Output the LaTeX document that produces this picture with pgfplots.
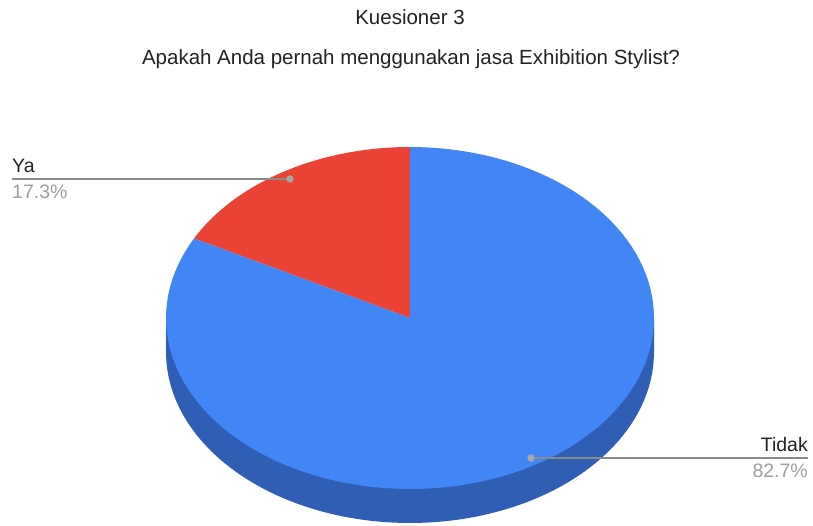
\documentclass[border=0pt]{standalone}
\usepackage{pgfplots}
\pgfplotsset{compat=1.18}
\usepackage{pgfplotstable}
\usepackage{fontspec}
\setmainfont{Liberation Sans}
\definecolor{cBlue}{HTML}{4285F4}
\definecolor{cRed}{HTML}{EA4335}
\definecolor{cSide}{HTML}{305EB4}
\definecolor{cLine}{HTML}{8A8A8A}
\definecolor{cDot}{HTML}{A8A8A8}
\definecolor{cPct}{HTML}{9E9E9E}
\definecolor{cText}{HTML}{222222}
\pgfplotstableread{
label value
Ya 17.3
Tidak 82.7
}\piedata
\pgfplotstablegetelem{0}{value}\of\piedata \let\vYa\pgfplotsretval
\pgfplotstablegetelem{1}{value}\of\piedata \let\vTidak\pgfplotsretval
\pgfmathsetmacro{\aStart}{90}
\pgfmathsetmacro{\aMid}{90+3.6*\vYa}
\pgfmathsetmacro{\aEnd}{\aMid+3.6*\vTidak}
% pie geometry (image pixels): centre, radii, depth
\def\cx{410}\def\cy{318}\def\rx{244}\def\ry{171}\def\dd{34}
\begin{document}
\begin{tikzpicture}
\useasboundingbox (0,0) rectangle (813pt,526pt);
\begin{axis}[
  at={(0,0)}, anchor=south west,
  hide axis, scale only axis,
  width=813pt, height=526pt,
  xmin=0, xmax=813, ymin=0, ymax=526,
  y dir=reverse, clip=true,
  samples=120,
]
% side of the pie (front)
\addplot[draw=none, fill=cSide, domain=180:360]
  ({\cx+\rx*cos(x)}, {\cy+\dd-\ry*sin(x)})
  -- (axis cs:\cx+\rx,\cy) -- (axis cs:\cx-\rx,\cy) -- cycle;
% Ya slice
\addplot[draw=none, fill=cRed, domain=\aStart:\aMid]
  ({\cx+\rx*cos(x)}, {\cy-\ry*sin(x)})
  -- (axis cs:\cx,\cy) -- cycle;
% Tidak slice
\addplot[draw=none, fill=cBlue, domain=\aMid:\aEnd]
  ({\cx+\rx*cos(x)}, {\cy-\ry*sin(x)})
  -- (axis cs:\cx,\cy) -- cycle;
% leader lines
\addplot[cLine, line width=1.4pt] coordinates {(12,179) (290,179)};
\addplot[cLine, line width=1.4pt] coordinates {(531,458) (808,458)};
\addplot[color=cDot, only marks, mark=*, mark size=3.4pt, mark options={draw=cDot, fill=cDot}]
  coordinates {(290,179) (531,458)};
% titles
\node[anchor=base, inner sep=0, text=cText, font=\fontsize{20.5}{24}\selectfont] at (axis cs:410,25) {Kuesioner 3};
\node[anchor=base, inner sep=0, text=cText, font=\fontsize{20.5}{24}\selectfont] at (axis cs:411,65) {Apakah Anda pernah menggunakan jasa Exhibition Stylist?};
% labels
\node[anchor=base west, inner sep=0, text=cText, font=\fontsize{19.5}{23}\selectfont] at (axis cs:12,173) {Ya};
\node[anchor=base west, inner sep=0, text=cPct, font=\fontsize{19.5}{23}\selectfont] at (axis cs:12,199) {17.3\%};
\node[anchor=base east, inner sep=0, text=cText, font=\fontsize{19.5}{23}\selectfont] at (axis cs:808,451) {Tidak};
\node[anchor=base east, inner sep=0, text=cPct, font=\fontsize{19.5}{23}\selectfont] at (axis cs:808,477) {82.7\%};
\end{axis}
\end{tikzpicture}
\end{document}
